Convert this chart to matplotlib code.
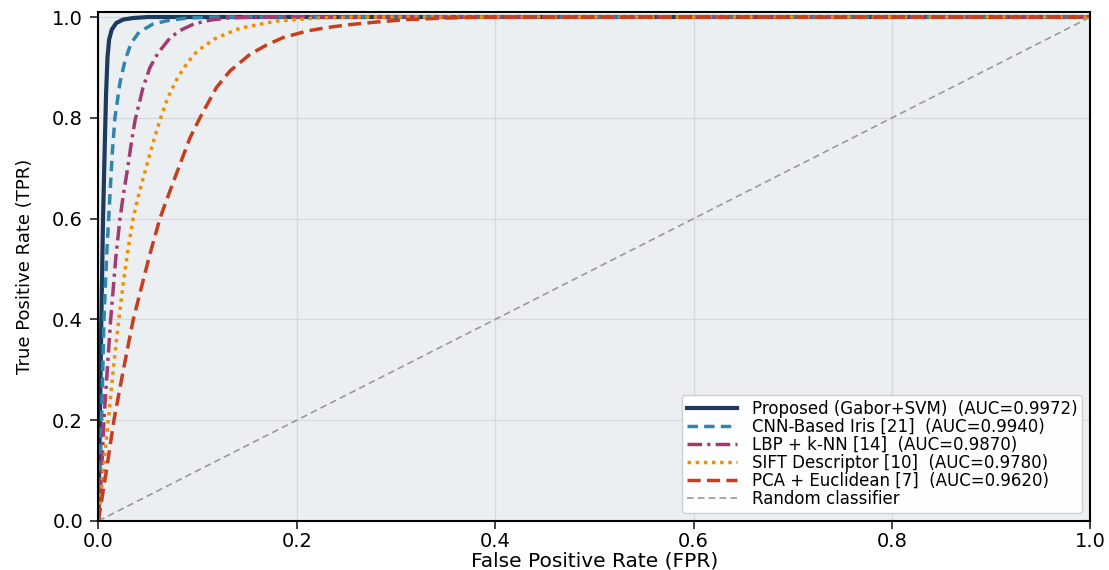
import matplotlib
matplotlib.use("Agg")
import matplotlib.pyplot as plt

# ---- data (FPR, TPR) ----
proposed_fpr = [0.0, 0.0015, 0.003, 0.0047, 0.0065, 0.0078, 0.0092, 0.0108, 0.0135, 0.018, 0.025, 0.035, 0.05, 1.0]
proposed_tpr = [0.0, 0.20, 0.40, 0.60, 0.75, 0.85, 0.92, 0.955, 0.975, 0.988, 0.995, 0.998, 1.0, 1.0]

cnn_fpr = [0.0, 0.0033, 0.0056, 0.0083, 0.0115, 0.0140, 0.0167, 0.0218, 0.027, 0.033, 0.041, 0.055, 0.07, 0.09, 0.12, 1.0]
cnn_tpr = [0.0, 0.20, 0.40, 0.525, 0.64, 0.73, 0.80, 0.87, 0.915, 0.948, 0.97, 0.986, 0.993, 0.998, 1.0, 1.0]

lbp_fpr = [0.0, 0.0033, 0.0056, 0.009, 0.0124, 0.0177, 0.0218, 0.025, 0.0295, 0.0336, 0.037, 0.045, 0.052,
           0.060, 0.072, 0.082, 0.096, 0.113, 0.13, 0.16, 1.0]
lbp_tpr = [0.0, 0.10, 0.20, 0.30, 0.40, 0.525, 0.60, 0.645, 0.70, 0.755, 0.795, 0.86, 0.90,
           0.928, 0.958, 0.973, 0.986, 0.994, 0.998, 1.0, 1.0]

sift_fpr = [0.0, 0.005, 0.010, 0.015, 0.020, 0.025, 0.030, 0.035, 0.041, 0.048, 0.055, 0.062, 0.070,
            0.080, 0.090, 0.100, 0.1175, 0.143, 0.18, 0.22, 0.26, 1.0]
sift_tpr = [0.0, 0.10, 0.20, 0.30, 0.39, 0.47, 0.54, 0.60, 0.65, 0.70, 0.75, 0.795, 0.84,
            0.88, 0.91, 0.933, 0.957, 0.978, 0.992, 0.998, 1.0, 1.0]

pca_fpr = [0.0, 0.0077, 0.0157, 0.0252, 0.0352, 0.0513, 0.062, 0.0671, 0.0796, 0.0923, 0.1024,
           0.119, 0.1327, 0.1528, 0.170, 0.186, 0.21, 0.23, 0.254, 0.28, 0.311, 0.35, 0.39, 1.0]
pca_tpr = [0.0, 0.095, 0.20, 0.30, 0.40, 0.525, 0.60, 0.628, 0.694, 0.76, 0.80,
           0.86, 0.893, 0.926, 0.945, 0.959, 0.972, 0.979, 0.985, 0.990, 0.995, 0.998, 1.0, 1.0]

random_fpr = [0.0, 1.0]
random_tpr = [0.0, 1.0]

labels = [
    "Proposed (Gabor+SVM)  (AUC=0.9972)",
    "CNN-Based Iris [21]  (AUC=0.9940)",
    "LBP + k-NN [14]  (AUC=0.9870)",
    "SIFT Descriptor [10]  (AUC=0.9780)",
    "PCA + Euclidean [7]  (AUC=0.9620)",
    "Random classifier",
]
x_ticks = [0.0, 0.2, 0.4, 0.6, 0.8, 1.0]
y_ticks = [0.0, 0.2, 0.4, 0.6, 0.8, 1.0]

# ---- figure ----
fig = plt.figure(figsize=(11.09, 5.70), dpi=100)
ax = fig.add_axes([0.0887, 0.086, 0.8946, 0.893])
ax.set_facecolor("#eceff2")

ax.plot(proposed_fpr, proposed_tpr, color="#1b3a5c", lw=3.0, ls="-", label=labels[0])
ax.plot(cnn_fpr, cnn_tpr, color="#2e86ab", lw=2.5, ls=(0, (3.0, 1.8)), label=labels[1])
ax.plot(lbp_fpr, lbp_tpr, color="#a23b72", lw=2.5, ls=(0, (4.2, 1.5, 0.9, 1.5)), label=labels[2])
ax.plot(sift_fpr, sift_tpr, color="#f18f01", lw=2.5, ls=(0, (1.0, 1.35)), label=labels[3])
ax.plot(pca_fpr, pca_tpr, color="#c73e1d", lw=2.5, ls=(0, (3.8, 1.8)), label=labels[4])
ax.plot(random_fpr, random_tpr, color="#999999", lw=1.2, ls=(0, (4, 2.5)), label=labels[5])

ax.set_xlim(0.0, 1.0)
ax.set_ylim(0.0, 1.01)
ax.set_xticks(x_ticks)
ax.set_yticks(y_ticks)
ax.set_xticklabels([f"{v:.1f}" for v in x_ticks])
ax.set_yticklabels([f"{v:.1f}" for v in y_ticks])
ax.tick_params(axis="both", labelsize=14, length=6, width=1.2, color="#222222")
ax.tick_params(axis="x", pad=2)
ax.tick_params(axis="y", pad=5)

ax.grid(True, color="#d6dadf", lw=1.0)
ax.set_axisbelow(True)
for s in ax.spines.values():
    s.set_color("black")
    s.set_linewidth(1.5)

ax.set_xlabel("False Positive Rate (FPR)", fontsize=14.5, labelpad=0)
ax.set_ylabel("True Positive Rate (TPR)", fontsize=13, labelpad=13)

leg = ax.legend(loc="lower right", fontsize=12, handlelength=3.0, labelspacing=0.0,
                borderpad=0.3, handletextpad=0.9, frameon=True, fancybox=True, framealpha=0.95,
                edgecolor="#cccccc", facecolor="white")

fig.savefig("out.png", dpi=100)
